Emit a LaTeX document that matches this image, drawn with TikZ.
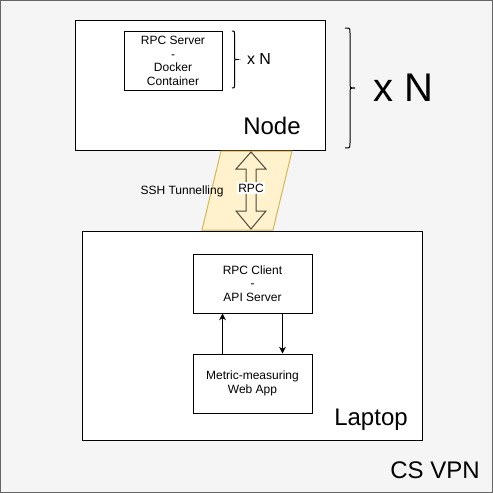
\documentclass[tikz,border=0pt]{standalone}
\usepackage{fontspec}
\setmainfont{Liberation Sans}
\usetikzlibrary{calc,arrows.meta}
\definecolor{bggray}{HTML}{F5F5F5}
\definecolor{bgline}{HTML}{666666}
\definecolor{tunfill}{HTML}{FFF2CC}
\definecolor{tunline}{HTML}{D6B656}
\tikzset{
  px/.style={x=0.75pt,y=-0.75pt},
  box/.style={draw=black,fill=white,line width=0.75pt,inner sep=0pt,align=center,
    font=\fontsize{9}{10.3}\selectfont},
  lbl/.style={inner sep=0pt,align=center},
  conn/.style={draw=black,line width=0.75pt,-{Stealth[length=5pt,width=5pt,inset=1.5pt]}},
  brace/.style={draw=black,line width=0.75pt},
}
\begin{document}
\begin{tikzpicture}[px]
\useasboundingbox (0,0) rectangle (493,493);
\draw[fill=bggray,draw=bgline,line width=0.75pt] (0.5,0.5) rectangle (492.5,492.5);
% Node box
\node[box,minimum width={250*0.75pt},minimum height={130*0.75pt}] (nodebox) at (200,85) {};
\node[box,minimum width={98*0.75pt},minimum height={59*0.75pt}] (server) at (173,61) {RPC Server\\-\\Docker\\Container};
\node[lbl,font=\fontsize{18}{20}\selectfont] (nodelbl) at (272,126) {Node};
\node[lbl,font=\fontsize{12}{14}\selectfont] (xn1) at (259,59) {x N};
\draw[brace] (232,31) .. controls (234.5,31) .. (234.5,33.5) -- (234.5,57) .. controls (234.5,59.5) .. (237,59.5)
  .. controls (234.5,59.5) .. (234.5,62) -- (234.5,85.5) .. controls (234.5,88) .. (232,88);
\draw[brace] (345,28) .. controls (350,28) .. (350,33) -- (350,83) .. controls (350,88) .. (355,88)
  .. controls (350,88) .. (350,93) -- (350,143) .. controls (350,148) .. (345,148);
\node[lbl,font=\fontsize{30}{34}\selectfont] (xn2) at (403,88) {x N};
% Laptop box
\node[box,minimum width={340*0.75pt},minimum height={209*0.75pt}] (laptop) at (252,335.5) {};
\node[lbl,font=\fontsize{18}{20}\selectfont] (laptoplbl) at (371,420) {Laptop};
\node[box,minimum width={119*0.75pt},minimum height={59*0.75pt}] (client) at (252.5,283.5) {RPC Client\\-\\API Server};
\node[box,minimum width={119*0.75pt},minimum height={59*0.75pt}] (metric) at (252.5,383.5) {Metric-measuring\\Web App};
\draw[conn] ($(metric.north west)!0.25!(metric.north east)$) -- ($(client.south west)!0.25!(client.south east)$);
\draw[conn] ($(client.south west)!0.75!(client.south east)$) -- ($(metric.north west)!0.75!(metric.north east)$);
% tunnel
\draw[fill=tunfill,draw=tunline,line width=0.75pt] (221,151) -- (292,151) -- (273,230) -- (202,230) -- cycle;
\draw[draw=black,draw opacity=0.7,line width=0.75pt] (251,152) -- (266,169) -- (256,169) -- (256,211) -- (266,211)
  -- (251,229) -- (236,211) -- (246,211) -- (246,169) -- (236,169) -- cycle;
\node[lbl,fill=white,inner sep=1pt,font=\fontsize{9}{10.3}\selectfont] (rpc) at (251,188) {RPC};
\node[lbl,font=\fontsize{9}{10.3}\selectfont] (ssh) at (182,191) {SSH Tunnelling};
\node[lbl,font=\fontsize{18}{20}\selectfont] (vpn) at (435,470) {CS VPN};
\end{tikzpicture}
\end{document}
